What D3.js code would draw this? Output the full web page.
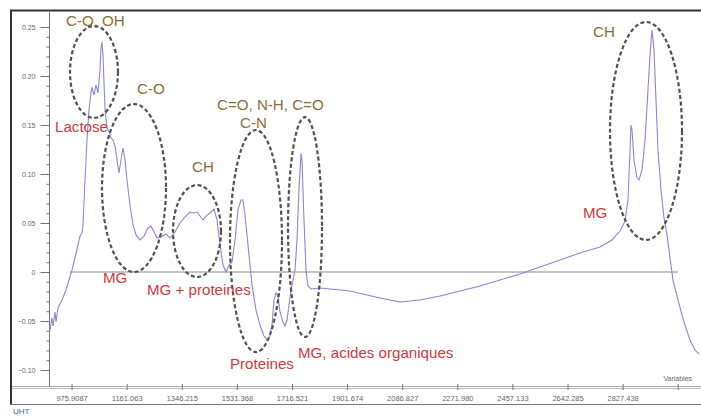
<!DOCTYPE html>
<html>
<head>
<meta charset="utf-8">
<script src="https://cdn.jsdelivr.net/npm/d3@7"></script>
<style>
  html, body { margin: 0; padding: 0; background: #fff; }
  svg { display: block; font-family: "Liberation Sans", Arial, sans-serif; }
</style>
</head>
<body>
<svg id="chart" width="701" height="416"></svg>
<script>
// Spectre MIR moyen (lait UHT): nombre d'onde (cm-1) et absorbance
const wavenumber = [
  903.4, 910.1, 913.4, 920.2, 923.5, 930.2, 943.7, 957.1, 967.2, 977.3,
  987.4, 997.4, 1004.2, 1010.9, 1014.2, 1021.0, 1027.7, 1034.4, 1041.1, 1044.5,
  1051.2, 1057.9, 1064.6, 1071.4, 1074.7, 1078.1, 1081.4, 1088.2, 1094.9, 1101.6,
  1108.3, 1115.0, 1121.8, 1128.5, 1135.2, 1141.9, 1148.6, 1155.4, 1162.1, 1172.2,
  1182.2, 1192.3, 1205.8, 1219.2, 1232.6, 1242.7, 1252.8, 1262.9, 1276.3, 1293.1,
  1306.6, 1323.4, 1340.2, 1357.0, 1373.8, 1387.2, 1397.3, 1407.4, 1417.4, 1427.5,
  1441.0, 1454.4, 1464.5, 1474.6, 1484.6, 1494.7, 1504.8, 1514.9, 1525.0, 1535.0,
  1545.1, 1551.8, 1558.6, 1568.6, 1582.1, 1595.5, 1609.0, 1622.4, 1632.5, 1642.6,
  1649.3, 1656.0, 1662.7, 1669.4, 1676.2, 1686.2, 1693.0, 1699.7, 1706.4, 1713.1,
  1719.8, 1726.6, 1733.3, 1740.0, 1746.7, 1750.1, 1756.8, 1763.5, 1770.2, 1780.3,
  1810.6, 1844.2, 1911.4, 2012.2, 2079.4, 2146.6, 2213.8, 2281.0, 2348.2, 2415.4,
  2482.6, 2549.8, 2617.0, 2684.2, 2751.4, 2791.7, 2818.6, 2835.4, 2845.4, 2852.2,
  2855.5, 2858.9, 2865.6, 2875.7, 2882.4, 2892.5, 2902.6, 2912.6, 2919.4, 2926.1,
  2932.8, 2939.5, 2946.2, 2956.3, 2966.4, 2976.5, 2986.6, 2996.6, 3013.4, 3033.6,
  3053.8, 3070.6, 3084.0
];
const absorbance = [
  -0.0592, -0.0469, -0.0551, -0.0408, -0.0510, -0.0367, -0.0286, -0.0184, -0.0082, 0.0020,
  0.0143, 0.0276, 0.0367, 0.0398, 0.0480, 0.0939, 0.1347, 0.1653, 0.1837, 0.1878,
  0.1806, 0.1908, 0.1827, 0.2061, 0.2286, 0.2347, 0.2214, 0.1653, 0.1469, 0.1429,
  0.1367, 0.1347, 0.1286, 0.1143, 0.1010, 0.1143, 0.1265, 0.1143, 0.0939, 0.0684,
  0.0480, 0.0378, 0.0327, 0.0367, 0.0449, 0.0469, 0.0408, 0.0347, 0.0357, 0.0388,
  0.0347, 0.0408, 0.0500, 0.0561, 0.0612, 0.0602, 0.0612, 0.0571, 0.0531, 0.0571,
  0.0602, 0.0643, 0.0531, 0.0276, 0.0071, 0.0000, 0.0071, 0.0102, 0.0327, 0.0633,
  0.0735, 0.0735, 0.0582, 0.0276, -0.0133, -0.0388, -0.0541, -0.0653, -0.0694, -0.0653,
  -0.0541, -0.0286, -0.0214, -0.0245, -0.0408, -0.0510, -0.0551, -0.0490, -0.0337, -0.0184,
  -0.0082, 0.0020, 0.0327, 0.0857, 0.1210, 0.1130, 0.0531, 0.0020, -0.0143, -0.0173,
  -0.0163, -0.0173, -0.0194, -0.0265, -0.0306, -0.0286, -0.0245, -0.0194, -0.0143, -0.0082,
  -0.0020, 0.0051, 0.0122, 0.0194, 0.0255, 0.0327, 0.0418, 0.0520, 0.0735, 0.1245,
  0.1500, 0.1449, 0.1143, 0.0959, 0.0939, 0.1041, 0.1347, 0.1857, 0.2214, 0.2469,
  0.2265, 0.1755, 0.1245, 0.0837, 0.0551, 0.0378, 0.0143, -0.0082, -0.0286, -0.0510,
  -0.0694, -0.0796, -0.0837
];

// Axes
const yTickValues = [-0.10, -0.05, 0, 0.05, 0.10, 0.15, 0.20, 0.25];
const xTickLabels = ["975.9087", "1161.063", "1346.215", "1531.368", "1716.521", "1901.674",
                     "2086.827", "2271.980", "2457.133", "2642.285", "2827.438"];
const xLastTick = 3012.591;
const xTitle = "Variables";
const sampleName = "UHT";

// Zones d'absorption entourées (centre et demi-axes en unités des données)
const zoneCenterWn  = [1051.2, 1185.6, 1397.3, 1595.5, 1760.2, 2905.9];
const zoneCenterAbs = [0.2041, 0.0857, 0.0418, 0.0316, 0.0459, 0.1439];
const zoneRadiusWn  = [80.6, 107.5, 80.6, 87.4, 57.1, 121.0];
const zoneRadiusAbs = [0.0469, 0.0857, 0.0469, 0.1133, 0.1122, 0.1112];

// Annotations: liaisons (olive) et constituants (rouge)
const bondLabels = ["C-O, OH", "C-O", "CH", "C=O, N-H, C=O", "C-N", "CH"];
const bondWn     = [957.1, 1195.7, 1380.5, 1464.5, 1541.8, 2727.8];
const bondAbs    = [0.2510, 0.1816, 0.1020, 0.1653, 0.1469, 0.2398];
const compLabels = ["Lactose", "MG", "MG + proteines", "Proteines", "MG, acides organiques", "MG"];
const compWn     = [920.2, 1081.4, 1229.3, 1508.2, 1736.6, 2694.2];
const compAbs    = [0.1429, -0.0112, -0.0235, -0.0990, -0.0878, 0.0551];

const svg = d3.select("#chart");

const x = d3.scaleLinear().domain([900, 3084]).range([49, 699]);
const y = d3.scaleLinear().domain([-0.10, 0.25]).range([370, 27]);

// Cadre de la fenêtre
svg.append("line").attr("x1", 10).attr("x2", 701).attr("y1", 10.5).attr("y2", 10.5)
  .attr("stroke", "#333").attr("stroke-width", 2);
svg.append("line").attr("x1", 11).attr("x2", 11).attr("y1", 10).attr("y2", 405)
  .attr("stroke", "#333").attr("stroke-width", 2);
svg.append("line").attr("x1", 12).attr("x2", 701).attr("y1", 386.5).attr("y2", 386.5)
  .attr("stroke", "#aaa").attr("stroke-width", 1);
svg.append("line").attr("x1", 12).attr("x2", 701).attr("y1", 388.5).attr("y2", 388.5)
  .attr("stroke", "#bbb").attr("stroke-width", 1);
svg.append("line").attr("x1", 10).attr("x2", 701).attr("y1", 404.5).attr("y2", 404.5)
  .attr("stroke", "#777").attr("stroke-width", 1);
svg.append("text").attr("x", 13).attr("y", 414).attr("font-size", 8)
  .attr("fill", "#3a5bc7").text(sampleName);

// Axe Y
const yAxisG = svg.append("g").attr("transform", "translate(49.5,0)");
yAxisG.call(d3.axisLeft(y)
  .tickValues(d3.range(-10, 26, 1).map(v => v / 100))
  .tickSize(3).tickFormat(""));
yAxisG.call(g => g.select(".domain").remove());
const yMajor = svg.append("g").attr("transform", "translate(49.5,0)")
  .call(d3.axisLeft(y).tickValues(yTickValues).tickSize(9).tickPadding(5)
    .tickFormat(d => d === 0 ? "0" : d3.format(".2f")(d)));
yMajor.select(".domain").remove();
svg.selectAll(".tick line").attr("stroke", "#777");
yMajor.selectAll("text").attr("font-size", 7).attr("fill", "#666")
  .attr("font-family", "Liberation Sans, Arial, sans-serif");
svg.append("line").attr("x1", 49.5).attr("x2", 49.5).attr("y1", 12).attr("y2", 387)
  .attr("stroke", "#777");

// Axe X
const xVals = xTickLabels.map(Number).concat([xLastTick]);
const xAxisG = svg.append("g").attr("transform", "translate(0,387)")
  .call(d3.axisBottom(x).tickValues(xVals).tickSize(3).tickPadding(6)
    .tickFormat((d, i) => i < xTickLabels.length ? xTickLabels[i] : ""));
xAxisG.select(".domain").remove();
xAxisG.selectAll(".tick line").attr("y1", -3).attr("y2", 3).attr("stroke", "#777");
xAxisG.selectAll("text").attr("font-size", 7.5).attr("fill", "#666")
  .attr("font-family", "Liberation Sans, Arial, sans-serif");
svg.append("text").attr("x", x(3012.591)).attr("y", 381).attr("text-anchor", "middle")
  .attr("font-size", 7).attr("fill", "#666").text(xTitle);

// Ligne du zéro
svg.append("line").attr("x1", x(970)).attr("x2", x(3013)).attr("y1", y(0)).attr("y2", y(0))
  .attr("stroke", "#8a8a8a").attr("stroke-width", 1.2);

// Spectre
const pts = wavenumber.map((w, i) => [w, absorbance[i]]);
svg.append("path").datum(pts)
  .attr("fill", "none").attr("stroke", "#8686dc").attr("stroke-width", 1.1)
  .attr("d", d3.line().x(d => x(d[0])).y(d => y(d[1])));

// Zones entourées en pointillés
zoneCenterWn.forEach((c, i) => {
  svg.append("ellipse")
    .attr("cx", x(c)).attr("cy", y(zoneCenterAbs[i]))
    .attr("rx", x(c + zoneRadiusWn[i]) - x(c))
    .attr("ry", y(zoneCenterAbs[i] - zoneRadiusAbs[i]) - y(zoneCenterAbs[i]))
    .attr("fill", "none").attr("stroke", "#505050").attr("stroke-width", 2.2)
    .attr("stroke-dasharray", "4,2.5");
});

// Étiquettes
function label(txt, wn, ab, color) {
  svg.append("text")
    .attr("transform", `translate(${x(wn)},${y(ab)}) scale(1.08,1)`)
    .attr("font-size", 14).attr("fill", color).text(txt);
}
bondLabels.forEach((t, i) => label(t, bondWn[i], bondAbs[i], "#8a6d35"));
compLabels.forEach((t, i) => label(t, compWn[i], compAbs[i], "#d2393b"));
</script>
</body>
</html>
